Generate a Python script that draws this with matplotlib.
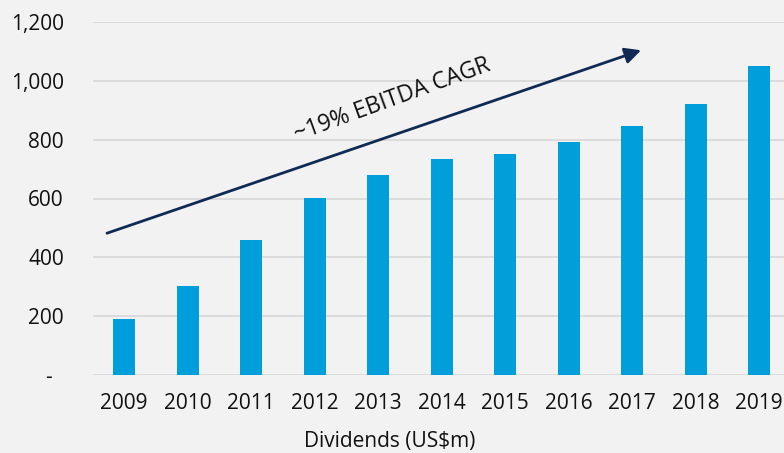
import matplotlib.pyplot as plt
import numpy as np
from matplotlib.ticker import FuncFormatter

plt.rcParams['font.family'] = ['Open Sans', 'DejaVu Sans']

anios = ['2009', '2010', '2011', '2012', '2013', '2014', '2015', '2016', '2017', '2018', '2019']
dividendos = [191, 301, 459, 601, 680, 733, 752, 791, 846, 921, 1052]
texto_flecha = '~19% EBITDA CAGR'
titulo_x = 'Dividends (US$m)'


def etiqueta_y(v, pos):
    if v == 0:
        return '-  '
    return '{:,.0f}'.format(v)


fig = plt.figure(figsize=(7.84, 4.53), dpi=100)
fig.patch.set_facecolor('#f2f2f2')
ax = fig.add_axes([93 / 784, 1 - 375 / 453, 1 - 93 / 784, (375 - 22) / 453])
ax.set_facecolor('#f2f2f2')

X = np.arange(len(anios))
ax.bar(X, dividendos, width=0.35, color='#009fdb', zorder=3)

ax.set_ylim(0, 1200)
ax.set_xlim(-0.49, len(anios) - 0.61)
ax.set_yticks(np.arange(0, 1201, 200))
ax.yaxis.set_major_formatter(FuncFormatter(etiqueta_y))
ax.set_xticks(X, anios)
ax.grid(axis='y', color='#d9d9d9', linewidth=1.3, zorder=0)
ax.tick_params(axis='both', length=0, labelsize=15, colors='#111111')
ax.tick_params(axis='y', pad=21)
ax.tick_params(axis='x', pad=13)
for s in ax.spines.values():
    s.set_visible(False)

# flecha de crecimiento
ax.annotate('', xy=(8.14, 1104), xytext=(-0.27, 482),
            arrowprops=dict(arrowstyle='-|>', color='#0e2a55', lw=2,
                            mutation_scale=24, shrinkA=0, shrinkB=0), zorder=5)
ax.text(4.22, 935, texto_flecha, rotation=20, rotation_mode='anchor',
        ha='center', va='center', fontsize=16.5, color='#111111')

fig.text(390 / 784, 1 - 441 / 453, titulo_x, ha='center', va='center',
         fontsize=15, color='#111111')

fig.savefig('out.png', dpi=100, facecolor=fig.get_facecolor())
